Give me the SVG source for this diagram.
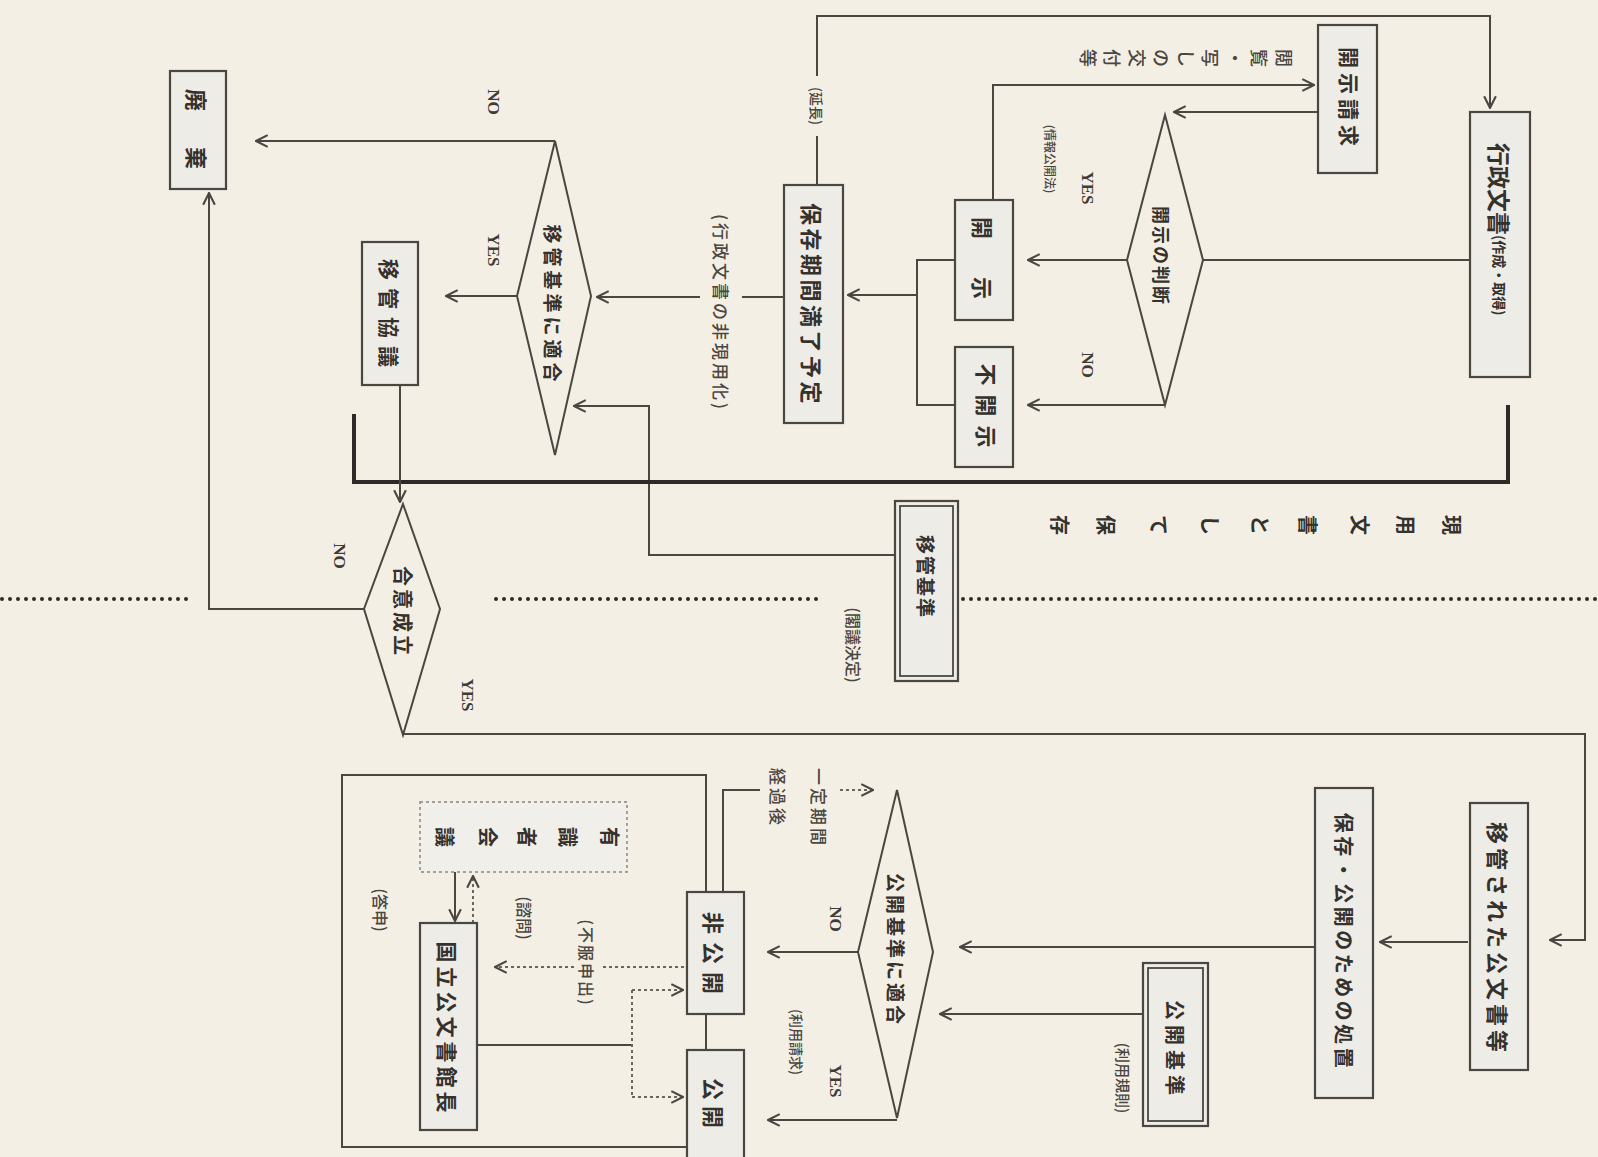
<svg xmlns="http://www.w3.org/2000/svg" width="1598" height="1157" viewBox="0 0 1598 1157">
<style>
.bg{fill:#f4efe4}
.box{fill:#eeece6;stroke:#4a4641;stroke-width:2.2}
.dia{fill:none;stroke:#4a4641;stroke-width:2}
.ln{fill:none;stroke:#4a4641;stroke-width:2}
.thick{fill:none;stroke:#2e2a27;stroke-width:4}
.dot{fill:none;stroke:#6a6560;stroke-width:2;stroke-dasharray:3 3}
.sep{fill:none;stroke:#2e2a27;stroke-width:4;stroke-dasharray:0 8;stroke-linecap:round}
.t{font-family:"Noto Sans CJK JP","Noto Sans",sans-serif;fill:#35312d;font-weight:700;text-anchor:middle;dominant-baseline:central}
.s{font-family:"Noto Sans CJK JP","Noto Sans",sans-serif;fill:#4a4641;font-weight:500;text-anchor:middle;dominant-baseline:central}
.e{font-family:"Liberation Serif",serif;fill:#3f3b37;font-size:17px;font-weight:700;text-anchor:middle;dominant-baseline:central}
</style>
<defs>
<marker id="ar" viewBox="0 0 12 12" refX="11" refY="6" markerWidth="14" markerHeight="14" markerUnits="userSpaceOnUse" orient="auto">
<path d="M1,1 L11,6 L1,11" fill="none" stroke="#4a4641" stroke-width="1.8"/>
</marker>
</defs>
<rect class="bg" x="0" y="0" width="1598" height="1157"/>

<g id="connectors">
<path class="ln" d="M817,185 V136"/>
<path class="ln" d="M817,76 V16 H1490 V108" marker-end="url(#ar)"/>
<path class="ln" d="M1470,260 H1203"/>
<path class="ln" d="M1318,112 H1174" marker-end="url(#ar)"/>
<path class="ln" d="M993,200 V85 H1314" marker-end="url(#ar)"/>
<path class="ln" d="M1127,260 H1028" marker-end="url(#ar)"/>
<path class="ln" d="M1165,405 H1028" marker-end="url(#ar)"/>
<path class="ln" d="M955,260 H917 V405 H955"/>
<path class="ln" d="M917,295 H848" marker-end="url(#ar)"/>
<path class="ln" d="M784,297 H742"/>
<path class="ln" d="M700,297 H597" marker-end="url(#ar)"/>
<path class="ln" d="M555,141 H256" marker-end="url(#ar)"/>
<path class="ln" d="M517,296 H446" marker-end="url(#ar)"/>
<path class="ln" d="M895,555 H649 V406 H574" marker-end="url(#ar)"/>
<path class="thick" d="M1508,405 V482 H354 V414"/>
<path class="ln" d="M400,385 V502" marker-end="url(#ar)"/>
<path class="ln" d="M364,609 H209 V193" marker-end="url(#ar)"/>
<path class="ln" d="M403,734 H1585 V940 H1550" marker-end="url(#ar)"/>
<path class="sep" d="M2,599 H189 M496,599 H820 M963,599 H1598"/>

<path class="ln" d="M1468,942 H1380" marker-end="url(#ar)"/>
<path class="ln" d="M1315,947 H960" marker-end="url(#ar)"/>
<path class="ln" d="M1143,1014 H940" marker-end="url(#ar)"/>
<path class="ln" d="M858,952 H768" marker-end="url(#ar)"/>
<path class="ln" d="M897,1120 H768" marker-end="url(#ar)"/>
<path class="ln" d="M723,892 V790 H760"/>
<path class="dot" d="M840,790 H873" marker-end="url(#ar)"/>
<path class="ln" d="M455,872 V921" marker-end="url(#ar)"/>
<path class="dot" d="M473,923 V876" marker-end="url(#ar)"/>
<path class="dot" d="M684,967 H600"/>
<path class="dot" d="M574,967 H495" marker-end="url(#ar)"/>
<path class="ln" d="M477,1045 H632"/>
<path class="dot" d="M632,990 V1097"/>
<path class="dot" d="M632,990 H683" marker-end="url(#ar)"/>
<path class="dot" d="M632,1097 H683" marker-end="url(#ar)"/>
</g>

<g id="outer-frame">
<rect x="342" y="775" width="364" height="372" fill="none" stroke="#4a4641" stroke-width="2"/>
</g>

<g id="n-gyosei">
<rect class="box" x="1470" y="112" width="60" height="265"/>
<text class="t" style="text-anchor:start" transform="translate(1500,143) rotate(90)"><tspan font-size="23">行政文書</tspan><tspan font-size="14">(作成・取得)</tspan></text>
</g>
<g id="n-kaiji-seikyu">
<rect class="box" x="1318" y="25" width="59" height="148"/>
<text class="t" font-size="21" letter-spacing="5" transform="translate(1350,99) rotate(90)">開示請求</text>
</g>
<g id="n-kaiji-handan">
<polygon class="dia" points="1165,115 1203,260 1165,405 1127,260"/>
<text class="t" font-size="18" letter-spacing="2" transform="translate(1162,256) rotate(90)">開示の判断</text>
</g>
<g id="n-kaiji">
<rect class="box" x="955" y="200" width="58" height="120"/>
<text class="t" font-size="22" transform="translate(984,228) rotate(90)">開</text>
<text class="t" font-size="22" transform="translate(984,288) rotate(90)">示</text>
</g>
<g id="n-fukaiji">
<rect class="box" x="955" y="347" width="58" height="120"/>
<text class="t" font-size="22" letter-spacing="9" transform="translate(988,410) rotate(90)">不開示</text>
</g>
<g id="n-hozon-kikan">
<rect class="box" x="784" y="185" width="59" height="238"/>
<text class="t" font-size="22" letter-spacing="3.5" transform="translate(813,305) rotate(90)">保存期間満了予定</text>
</g>
<g id="n-ikan-kijun-tekigo">
<polygon class="dia" points="555,141 591,296 555,455 517,296"/>
<text class="t" font-size="19" letter-spacing="4" transform="translate(553,305) rotate(90)">移管基準に適合</text>
</g>
<g id="n-ikan-kyogi">
<rect class="box" x="362" y="242" width="56" height="143"/>
<text class="t" font-size="21" letter-spacing="8" transform="translate(390,317) rotate(90)">移管協議</text>
</g>
<g id="n-haiki">
<rect class="box" x="170" y="71" width="56" height="118"/>
<text class="t" font-size="22" transform="translate(198,100) rotate(90)">廃</text>
<text class="t" font-size="22" transform="translate(198,158) rotate(90)">棄</text>
</g>
<g id="n-goi">
<polygon class="dia" points="403,504 440,609 403,735 364,609"/>
<text class="t" font-size="20" letter-spacing="3" transform="translate(403,612) rotate(90)">合意成立</text>
</g>
<g id="n-ikan-kijun">
<rect class="box" x="895" y="501" width="63" height="180" stroke-width="2.6"/>
<rect x="900" y="506" width="53" height="170" fill="none" stroke="#4a4641" stroke-width="1.8"/>
<text class="t" font-size="19" letter-spacing="2" transform="translate(926,577) rotate(90)">移管基準</text>
</g>

<g id="n-ikan-sareta">
<rect class="box" x="1470" y="803" width="58" height="267"/>
<text class="t" font-size="22" letter-spacing="4" transform="translate(1499,939) rotate(90)">移管された公文書等</text>
</g>
<g id="n-hozon-shochi">
<rect class="box" x="1315" y="788" width="58" height="310"/>
<text class="t" font-size="20" letter-spacing="3.5" transform="translate(1344,942) rotate(90)">保存・公開のための処置</text>
</g>
<g id="n-kokai-kijun">
<rect class="box" x="1143" y="963" width="65" height="163" stroke-width="2.6"/>
<rect x="1148" y="968" width="55" height="153" fill="none" stroke="#4a4641" stroke-width="1.8"/>
<text class="t" font-size="20" letter-spacing="5" transform="translate(1175,1050) rotate(90)">公開基準</text>
</g>
<g id="n-kokai-tekigo">
<polygon class="dia" points="897,790 933,952 897,1118 858,952"/>
<text class="t" font-size="19" letter-spacing="3" transform="translate(896,950) rotate(90)">公開基準に適合</text>
</g>
<g id="n-hikokai">
<rect class="box" x="687" y="892" width="57" height="122"/>
<text class="t" font-size="22" letter-spacing="8" transform="translate(715,957) rotate(90)">非公開</text>
</g>
<g id="n-kokai">
<rect class="box" x="687" y="1050" width="57" height="115"/>
<text class="t" font-size="22" letter-spacing="6" transform="translate(715,1106) rotate(90)">公開</text>
</g>
<g id="n-yushikisha">
<rect x="420" y="802" width="207" height="70" fill="#f1efe9" stroke="#8a857f" stroke-width="1.5" stroke-dasharray="3 3"/>
<text class="t" font-size="20" transform="translate(610,837) rotate(90)">有</text>
<text class="t" font-size="20" transform="translate(568,837) rotate(90)">識</text>
<text class="t" font-size="20" transform="translate(527,837) rotate(90)">者</text>
<text class="t" font-size="20" transform="translate(488,837) rotate(90)">会</text>
<text class="t" font-size="20" transform="translate(445,837) rotate(90)">議</text>
</g>
<g id="n-kanchou">
<rect class="box" x="420" y="923" width="57" height="207"/>
<text class="t" font-size="21" letter-spacing="4" transform="translate(448,1029) rotate(90)">国立公文書館長</text>
</g>

<g id="labels">
<text class="s" font-size="14" transform="translate(817,106) rotate(90)">(延長)</text>
<text class="s" font-size="12" transform="translate(1050,159) rotate(90)">(情報公開法)</text>
<text class="e" transform="translate(1087,188) rotate(90)">YES</text>
<text class="e" transform="translate(1087,365) rotate(90)">NO</text>
<text class="s" font-size="18" transform="translate(1285,58) rotate(90)">閲</text>
<text class="s" font-size="18" transform="translate(1260,58) rotate(90)">覧</text>
<text class="s" font-size="18" transform="translate(1236,58) rotate(90)">・</text>
<text class="s" font-size="18" transform="translate(1211,58) rotate(90)">写</text>
<text class="s" font-size="18" transform="translate(1187,58) rotate(90)">し</text>
<text class="s" font-size="18" transform="translate(1162,58) rotate(90)">の</text>
<text class="s" font-size="18" transform="translate(1138,58) rotate(90)">交</text>
<text class="s" font-size="18" transform="translate(1113,58) rotate(90)">付</text>
<text class="s" font-size="18" transform="translate(1089,58) rotate(90)">等</text>
<text class="s" font-size="17" letter-spacing="3" transform="translate(721,313) rotate(90)">(行政文書の非現用化)</text>
<text class="e" transform="translate(493,102) rotate(90)">NO</text>
<text class="e" transform="translate(493,250) rotate(90)">YES</text>
<text class="e" transform="translate(339,556) rotate(90)">NO</text>
<text class="e" transform="translate(467,695) rotate(90)">YES</text>
<text class="s" font-size="16" transform="translate(854,645) rotate(90)">(閣議決定)</text>
<text class="t" font-size="20" transform="translate(1452,525) rotate(90)">現</text>
<text class="t" font-size="20" transform="translate(1406,525) rotate(90)">用</text>
<text class="t" font-size="20" transform="translate(1360,525) rotate(90)">文</text>
<text class="t" font-size="20" transform="translate(1308,525) rotate(90)">書</text>
<text class="t" font-size="20" transform="translate(1260,525) rotate(90)">と</text>
<text class="t" font-size="20" transform="translate(1210,525) rotate(90)">し</text>
<text class="t" font-size="20" transform="translate(1159,525) rotate(90)">て</text>
<text class="t" font-size="20" transform="translate(1106,525) rotate(90)">保</text>
<text class="t" font-size="20" transform="translate(1060,525) rotate(90)">存</text>
<text class="s" font-size="15" transform="translate(1123,1078) rotate(90)">(利用規則)</text>
<text class="s" font-size="14" transform="translate(797,1042) rotate(90)">(利用請求)</text>
<text class="e" transform="translate(835,919) rotate(90)">NO</text>
<text class="e" transform="translate(835,1081) rotate(90)">YES</text>
<text class="s" font-size="17" letter-spacing="3" transform="translate(819,808) rotate(90)">一定期間</text>
<text class="s" font-size="17" letter-spacing="3" transform="translate(778,798) rotate(90)">経過後</text>
<text class="s" font-size="16" transform="translate(381,910) rotate(90)">(答申)</text>
<text class="s" font-size="16" transform="translate(525,918) rotate(90)">(諮問)</text>
<text class="s" font-size="16" letter-spacing="2" transform="translate(587,963) rotate(90)">(不服申出)</text>
</g>
</svg>
